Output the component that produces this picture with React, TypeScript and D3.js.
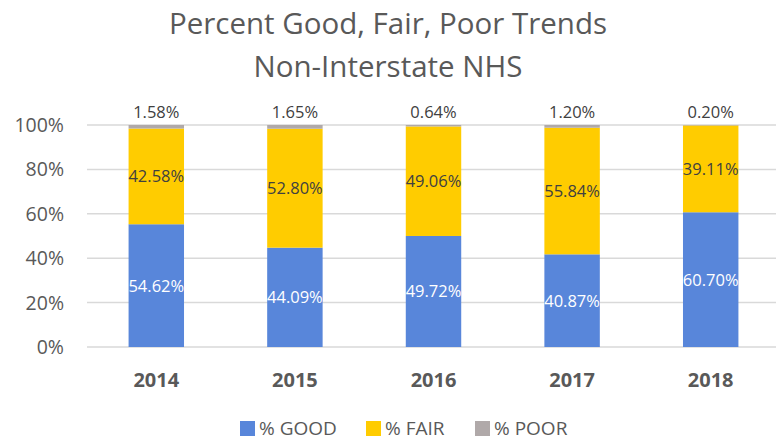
import * as d3 from "d3";

const years = ["2014", "2015", "2016", "2017", "2018"];
const good = [54.62, 44.09, 49.72, 40.87, 60.7];
const fair = [42.58, 52.8, 49.06, 55.84, 39.11];
const poor = [1.58, 1.65, 0.64, 1.2, 0.2];
const seriesNames = ["% GOOD", "% FAIR", "% POOR"];
const yTicks = [0, 0.2, 0.4, 0.6, 0.8, 1];

const colors = ["#5886DA", "#FFCC00", "#B0A9A9"];
const font = "'Open Sans', 'Noto Sans', sans-serif";

export default function App() {
    const width = 776;
    const height = 441;
    const marginLeft = 87;
    const plotRight = 780;
    const yTop = 125;
    const yBottom = 347;

    const rows = years.map((yr, i) => ({
        year: yr,
        good: good[i],
        fair: fair[i],
        poor: poor[i],
    }));
    const keys = ["good", "fair", "poor"] as const;
    const stacked = d3
        .stack<any>()
        .keys(keys as any)
        .offset(d3.stackOffsetExpand)(rows);

    const x = d3
        .scaleBand<string>()
        .domain(years)
        .range([marginLeft, plotRight])
        .paddingInner(0.6)
        .paddingOuter(0.3);
    const y = d3.scaleLinear([0, 1], [yBottom, yTop]);
    const fmt = (v: number) => v.toFixed(2) + "%";

    const legendX = [240, 366, 475];

    return (
        <svg
            width={width}
            height={height}
            style={{ position: "absolute", left: 0, top: 0, background: "#fff" }}
            fontFamily={font}
        >
            <text x={388} y={34} textAnchor="middle" fontSize={29.5} fill="#595959">
                Percent Good, Fair, Poor Trends
            </text>
            <text x={388} y={77} textAnchor="middle" fontSize={29.5} fill="#595959">
                Non-Interstate NHS
            </text>

            {/* gridlines + y labels */}
            {yTicks.map((t) => (
                <g key={t}>
                    <line
                        x1={marginLeft}
                        x2={width}
                        y1={y(t)}
                        y2={y(t)}
                        stroke="#D9D9D9"
                        strokeWidth={1.5}
                    />
                    <text
                        x={64}
                        y={y(t)}
                        dy="0.36em"
                        textAnchor="end"
                        fontSize={19.5}
                        fill="#595959"
                    >
                        {d3.format(".0%")(t)}
                    </text>
                </g>
            ))}

            {stacked.map((s, si) => (
                <g key={s.key} fill={colors[si]}>
                    {s.map((d, i) => (
                        <rect
                            key={i}
                            x={x(years[i])}
                            y={y(d[1])}
                            width={x.bandwidth()}
                            height={y(d[0]) - y(d[1])}
                        />
                    ))}
                </g>
            ))}

            {/* data labels */}
            {stacked.map((s, si) =>
                s.map((d, i) => {
                    const raw = [good, fair, poor][si][i];
                    const cx = (x(years[i]) ?? 0) + x.bandwidth() / 2;
                    const cy = si === 2 ? y(1) - 7 : (y(d[0]) + y(d[1])) / 2;
                    return (
                        <text
                            key={s.key + i}
                            x={cx}
                            y={cy}
                            dy={si === 2 ? 0 : "0.36em"}
                            textAnchor="middle"
                            fontSize={16.5}
                            fill={si === 0 ? "#ffffff" : "#404040"}
                        >
                            {fmt(raw)}
                        </text>
                    );
                })
            )}

            {/* x labels */}
            {years.map((yr) => (
                <text
                    key={yr}
                    x={(x(yr) ?? 0) + x.bandwidth() / 2}
                    y={387}
                    textAnchor="middle"
                    fontSize={20}
                    fontWeight="bold"
                    fill="#595959"
                >
                    {yr}
                </text>
            ))}

            {/* legend */}
            {seriesNames.map((n, i) => (
                <g key={n} transform={`translate(${legendX[i]},428)`}>
                    <rect x={0} y={-7} width={15} height={15} fill={colors[i]} />
                    <text x={19} y={0} dy="0.36em" fontSize={19} fill="#595959">
                        {n}
                    </text>
                </g>
            ))}
        </svg>
    );
}
